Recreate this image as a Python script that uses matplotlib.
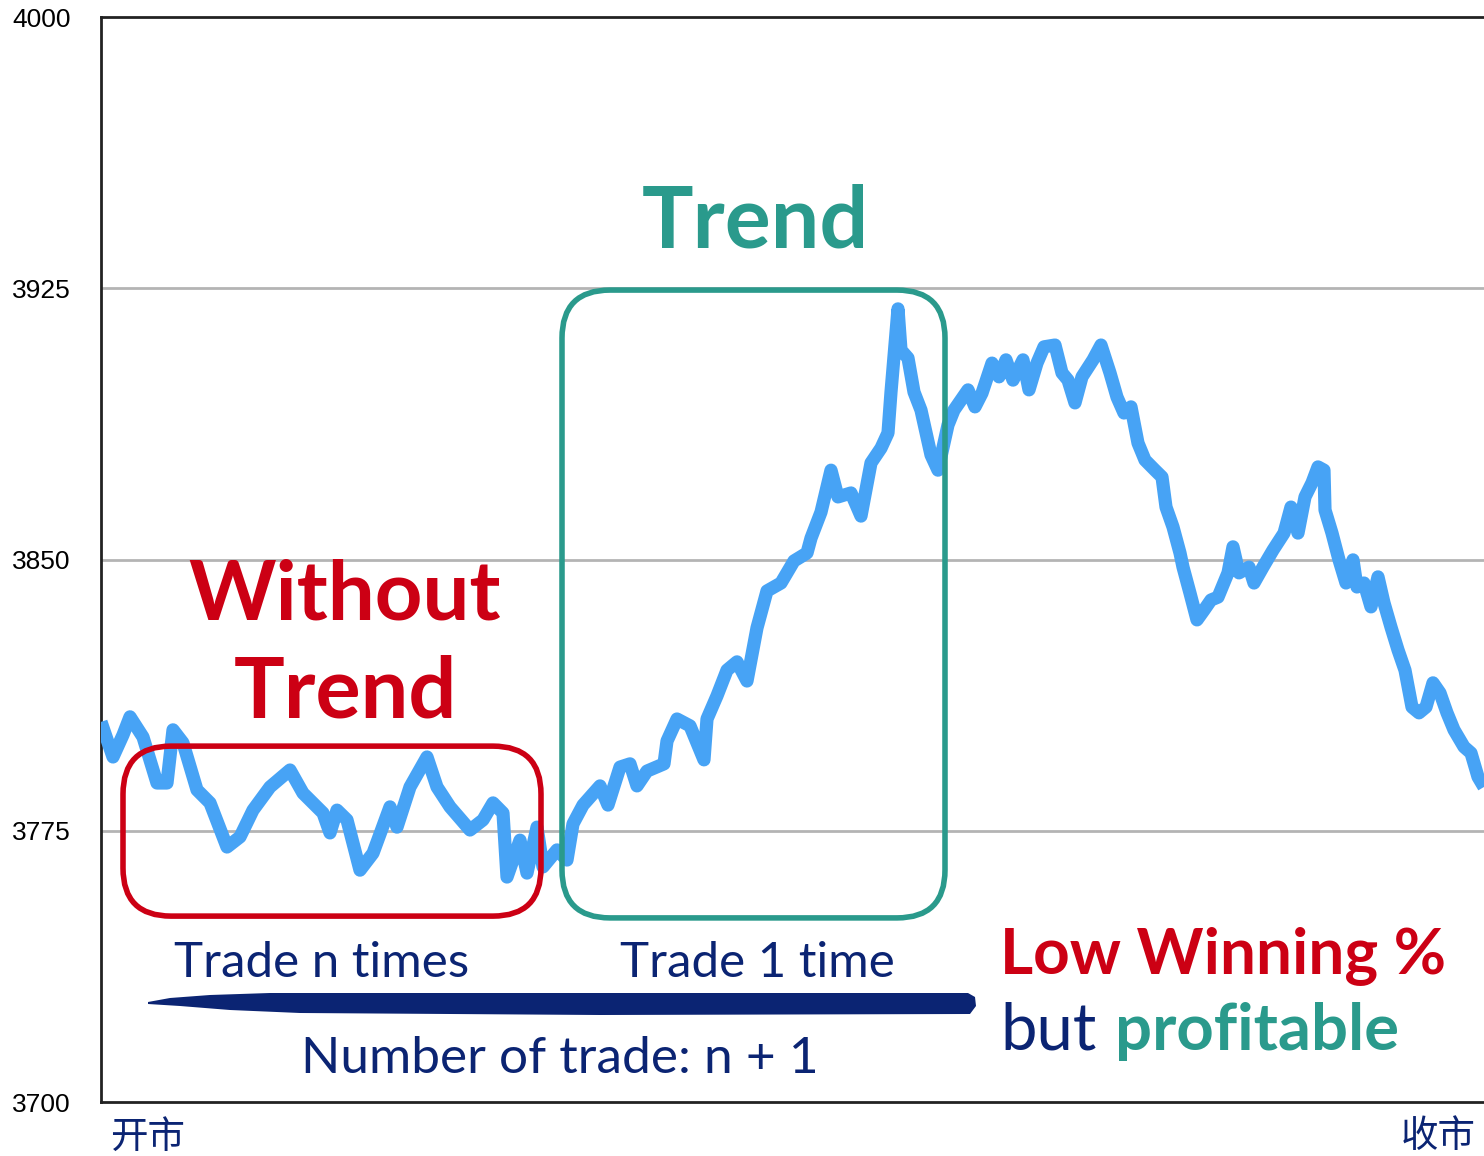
import matplotlib
matplotlib.use("Agg")
import matplotlib.pyplot as plt
from matplotlib.patches import FancyBboxPatch, Polygon
from matplotlib.transforms import IdentityTransform
import numpy as np

# intraday index, time axis in ticks from the open
t = [0, 12, 22, 29, 42, 56, 66, 72, 82, 96, 109, 126, 139, 152, 169, 189, 202, 222, 229, 236,
     246, 259, 272, 289, 296, 309, 326, 336, 349, 369, 382, 392, 402, 406, 419, 426, 436, 442, 456, 466,
     472, 482, 499, 507, 519, 529, 536, 546, 563, 566, 576, 589, 603, 606, 616, 626, 636, 646, 656, 666,
     680, 693, 706, 710, 720, 730, 737, 750, 760, 770, 780, 787, 790, 797, 800, 807, 813, 820, 830, 837,
     847, 853, 860, 867, 874, 881, 891, 898, 905, 912, 922, 928, 936, 943, 954, 961, 967, 974, 981, 992,
     1000, 1009, 1016, 1023, 1030, 1037, 1044, 1054, 1061, 1065, 1072, 1079, 1082, 1089, 1096, 1103, 1110, 1117, 1127, 1132,
     1138, 1148, 1153, 1162, 1172, 1183, 1190, 1197, 1204, 1211, 1217, 1223, 1224, 1231, 1238, 1245, 1252, 1256, 1263, 1270,
     1277, 1283, 1290, 1297, 1304, 1311, 1318, 1325, 1332, 1339, 1346, 1353, 1363, 1370, 1377, 1383]
price = [3805.1, 3795.4, 3801.5, 3806.5, 3800.9, 3788.2, 3788.2, 3802.9, 3799.3, 3786.3, 3782.7, 3770.5, 3773.3, 3780.7, 3787.1, 3791.8, 3785.4, 3779.9, 3774.4, 3780.7,
         3778.0, 3764.1, 3768.8, 3781.6, 3776.0, 3787.1, 3795.4, 3787.1, 3781.6, 3775.2, 3778.0, 3782.7, 3779.9, 3762.2, 3772.4, 3763.3, 3776.0, 3765.0, 3769.7, 3766.9,
         3776.9, 3782.1, 3787.4, 3782.1, 3792.6, 3793.5, 3787.4, 3791.5, 3793.5, 3799.8, 3805.9, 3804.0, 3794.6, 3805.9, 3812.3, 3819.4, 3821.7, 3816.4, 3831.1, 3841.3,
         3843.5, 3849.6, 3851.8, 3855.9, 3863.1, 3874.7, 3867.3, 3868.4, 3862.0, 3876.7, 3880.8, 3885.0, 3896.3, 3919.3, 3907.9, 3905.7, 3896.3, 3891.3, 3878.9, 3874.7,
         3887.2, 3891.3, 3894.1, 3896.9, 3892.2, 3896.0, 3904.3, 3900.5, 3905.2, 3899.6, 3905.2, 3896.9, 3904.3, 3908.8, 3909.3, 3901.6, 3899.6, 3893.3, 3900.5, 3905.2,
         3909.3, 3901.6, 3894.9, 3890.5, 3892.2, 3882.2, 3877.5, 3874.7, 3872.8, 3864.5, 3859.0, 3851.8, 3847.9, 3840.7, 3833.3, 3836.0, 3838.8, 3839.6, 3846.3, 3853.5,
         3846.3, 3847.9, 3843.5, 3847.9, 3852.6, 3857.3, 3864.5, 3857.3, 3867.3, 3871.2, 3875.6, 3874.7, 3863.7, 3857.3, 3849.9, 3843.5, 3849.9, 3842.4, 3843.5, 3836.9,
         3845.2, 3838.0, 3831.3, 3825.0, 3819.4, 3809.2, 3807.6, 3809.2, 3815.9, 3813.1, 3807.6, 3802.9, 3798.2, 3796.5, 3789.9, 3787.1]

y_ticks = [3700, 3775, 3850, 3925, 4000]
x_labels = ["开市", "收市"]

# highlighted regions (time start, time end, price low, price high)
range_box = (22, 440, 3751.4, 3798.4)
trend_box = (461, 844, 3750.9, 3924.5)

RED = "#cc0014"
TEAL = "#2a9a8c"
NAVY = "#0b2473"
BLUE = "#47a3f5"

W, H = 1484, 1156
fig = plt.figure(figsize=(W / 100, H / 100), dpi=100)
ax = fig.add_axes([101 / W, 1 - 1102 / H, 1 - 101 / W + 0.01, (1102 - 17) / H])

ax.plot(t, price, color=BLUE, lw=9.5, solid_joinstyle="round", solid_capstyle="butt", zorder=3)
ax.set_xlim(0, 1383 / (1 - 101 / W) * (1 - 101 / W + 0.01))
ax.set_ylim(3700, 4000)

ax.set_yticks(y_ticks)
ax.set_yticklabels([str(v) for v in y_ticks], family="Liberation Sans", fontsize=19)
ax.tick_params(axis="y", length=0, pad=22)
ax.set_xticks([])
for y in y_ticks[1:-1]:
    ax.axhline(y, color="#b4b4b4", lw=2, zorder=1)
for s in ["left", "top", "bottom"]:
    ax.spines[s].set_linewidth(2)
    ax.spines[s].set_color("#222222")
ax.spines["right"].set_visible(False)

fig.canvas.draw()


def to_px(x, y):
    return ax.transData.transform((x, y))


for box, col in [(range_box, RED), (trend_box, TEAL)]:
    x0, y0 = to_px(box[0], box[2])
    x1, y1 = to_px(box[1], box[3])
    p = FancyBboxPatch((x0, y0), x1 - x0, y1 - y0,
                       boxstyle="round,pad=0,rounding_size=48",
                       transform=IdentityTransform(), fill=False,
                       ec=col, lw=4, zorder=4)
    fig.add_artist(p)

# brush stroke under the trade counts
stroke = [(148, 1002), (170, 998), (210, 995), (270, 993), (600, 993), (968, 993), (975, 997),
          (976, 1006), (970, 1014), (600, 1015), (300, 1013), (230, 1010), (180, 1006), (148, 1004)]
fig.add_artist(Polygon([(x, H - y) for x, y in stroke], closed=True,
                       transform=IdentityTransform(), fc=NAVY, ec="none", zorder=5))


def ftext(x, y, s, **kw):
    fig.text(x / W, 1 - y / H, s, **kw)


font = "Lato"
ftext(345, 620, "Without", color=RED, fontsize=60, weight="bold", family=font,
      ha="center", va="baseline")
ftext(345, 717, "Trend", color=RED, fontsize=61, weight="bold", family=font,
      ha="center", va="baseline")
ftext(755, 247, "Trend", color=TEAL, fontsize=62, weight="bold", family=font,
      ha="center", va="baseline")
ftext(322, 977, "Trade n times", color=NAVY, fontsize=35.5, family=font,
      ha="center", va="baseline")
ftext(757, 977, "Trade 1 time", color=NAVY, fontsize=35.5, family=font,
      ha="center", va="baseline")
ftext(560, 1073, "Number of trade: n + 1", color=NAVY, fontsize=37, family=font,
      ha="center", va="baseline")
ftext(1000, 973, "Low Winning %", color=RED, fontsize=46, weight="bold", family=font,
      ha="left", va="baseline")
ftext(1000, 1050, "but", color=NAVY, fontsize=47, family=font,
      ha="left", va="baseline")
ftext(1115, 1050, "profitable", color=TEAL, fontsize=47, weight="bold", family=font,
      ha="left", va="baseline")

ftext(110, 1137, x_labels[0], color=NAVY, fontsize=27, family=["Noto Sans CJK SC", "DejaVu Sans"],
      ha="left", va="center")
ftext(1476, 1137, x_labels[1], color=NAVY, fontsize=27, family=["Noto Sans CJK SC", "DejaVu Sans"],
      ha="right", va="center")

fig.savefig("out.png", dpi=100)
